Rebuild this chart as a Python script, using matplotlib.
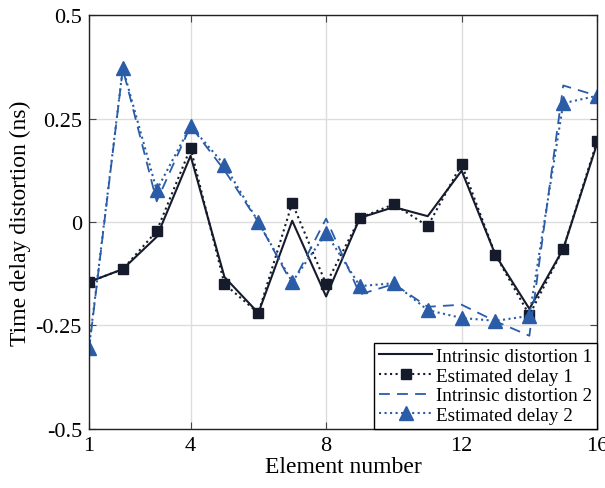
import numpy as np
import matplotlib.pyplot as plt

plt.rcParams['font.family'] = ['Liberation Serif', 'DejaVu Serif']
plt.rcParams['mathtext.fontset'] = 'stix'

# Data
element = np.arange(1, 17)
intrinsic_1 = [-0.145, -0.114, -0.036, 0.160, -0.133, -0.220, 0.003, -0.180,
               0.010, 0.036, 0.014, 0.124, -0.080, -0.210, -0.065, 0.190]
estimated_1 = [-0.145, -0.114, -0.022, 0.179, -0.150, -0.220, 0.046, -0.150,
               0.010, 0.043, -0.010, 0.140, -0.080, -0.225, -0.065, 0.196]
intrinsic_2 = [-0.310, 0.370, 0.050, 0.232, 0.125, 0.000, -0.150, 0.008,
               -0.175, -0.150, -0.205, -0.200, -0.240, -0.275, 0.330, 0.305]
estimated_2 = [-0.305, 0.372, 0.077, 0.232, 0.138, 0.000, -0.145, -0.027,
               -0.155, -0.148, -0.213, -0.232, -0.239, -0.227, 0.287, 0.305]

black = '#161b2c'
blue = '#2b5ca8'

fig = plt.figure(figsize=(6.05, 4.89), dpi=100)
ax = fig.add_axes([0.147, 0.121, 0.840, 0.846])

ax.plot(element, intrinsic_1, '-', color=black, lw=1.5, label='Intrinsic distortion 1')
ax.plot(element, estimated_1, ':', color=black, lw=1.5, marker='s', ms=7,
        label='Estimated delay 1')
ax.plot(element, intrinsic_2, '--', color=blue, lw=1.3, dashes=(6, 4),
        label='Intrinsic distortion 2')
ax.plot(element, estimated_2, ':', color=blue, lw=1.5, marker='^', ms=10,
        label='Estimated delay 2')

ax.set_xlim(1, 16)
ax.set_ylim(-0.5, 0.5)
ax.set_xticks([1, 4, 8, 12, 16])
ax.set_yticks([-0.5, -0.25, 0, 0.25, 0.5])
ax.set_yticklabels(['-0.5', '-0.25', '0', '0.25', '0.5'])
ax.tick_params(direction='in', top=True, right=True, labelsize=16, length=5,
               color='#444444', pad=5)
ax.grid(True, color='#dddddd', lw=1)
ax.set_axisbelow(True)
for s in ax.spines.values():
    s.set_color('#222222')
    s.set_linewidth(1.0)

ax.set_xlabel('Element number', fontsize=17, labelpad=1)
ax.set_ylabel('Time delay distortion (ns)', fontsize=17, labelpad=3)

leg = ax.legend(loc='lower right', fontsize=13.8, frameon=True, fancybox=False,
                edgecolor='black', framealpha=1, borderpad=0.25, labelspacing=0.12,
                handlelength=2.8, handletextpad=0.2, borderaxespad=0)
leg.get_frame().set_linewidth(1.0)

fig.savefig('out.png', dpi=100)
